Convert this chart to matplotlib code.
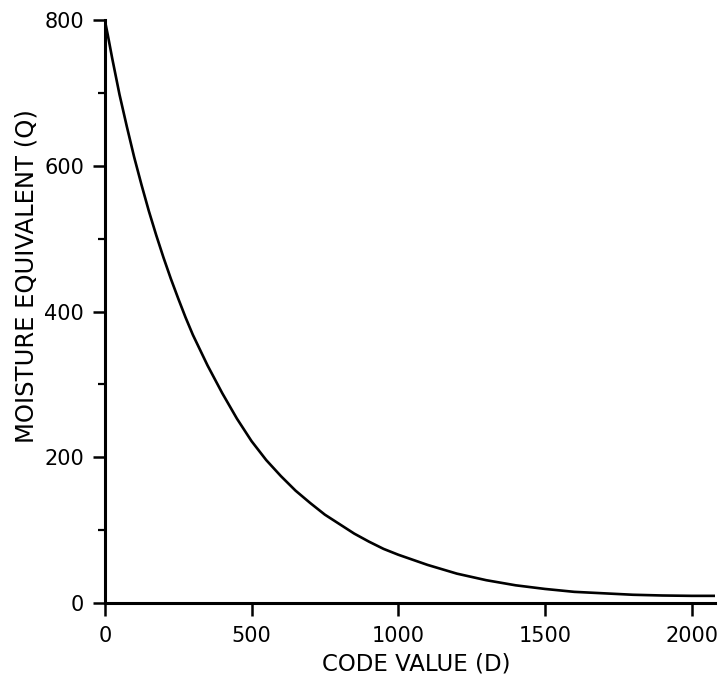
import matplotlib.pyplot as plt
from matplotlib.ticker import MultipleLocator

# values
code_value = [0, 10, 25, 50, 75, 100, 125, 150, 175, 200, 225, 250, 275, 300,
              350, 400, 450, 500, 550, 600, 650, 700, 750, 800, 850, 900, 950,
              1000, 1100, 1200, 1300, 1400, 1500, 1600, 1700, 1800, 1900, 2000, 2080]
moisture = [800, 780, 748, 698, 654, 612, 574, 538, 505, 474, 445, 418, 392, 368,
            326, 288, 253, 222, 196, 174, 154, 137, 121, 108, 95, 84, 74,
            66, 52, 40, 31, 24, 19, 15, 13, 11, 10, 9.5, 9.5]

x_ticks = [0, 500, 1000, 1500, 2000]
y_ticks = [0, 200, 400, 600, 800]

plt.rcParams['font.family'] = ['DejaVu Sans']

fig = plt.figure(figsize=(7.18, 6.75), dpi=100)
ax = fig.add_axes([0.146, 0.107, 0.850, 0.863])

ax.plot(code_value, moisture, color='black', linewidth=1.9,
        solid_joinstyle='round', solid_capstyle='round')

ax.set_xlim(0, 2080)
ax.set_ylim(0, 800)
ax.set_xticks(x_ticks)
ax.set_yticks(y_ticks)
ax.yaxis.set_minor_locator(MultipleLocator(100))

for side in ['top', 'right']:
    ax.spines[side].set_visible(False)
for side in ['left', 'bottom']:
    ax.spines[side].set_linewidth(2.2)

ax.tick_params(axis='both', which='major', direction='out', length=9, width=1.8,
               labelsize=15)
ax.tick_params(axis='x', which='major', pad=8)
ax.tick_params(axis='y', which='major', pad=6)
ax.tick_params(axis='y', which='minor', direction='out', length=5, width=1.6)

ax.set_xlabel('CODE VALUE (D)', fontsize=16.5)
ax.set_ylabel('MOISTURE EQUIVALENT (Q)', fontsize=17.5)
ax.xaxis.set_label_coords(0.51, -0.085)
ax.yaxis.set_label_coords(-0.108, 0.56)

fig.savefig('out.png', dpi=100)
